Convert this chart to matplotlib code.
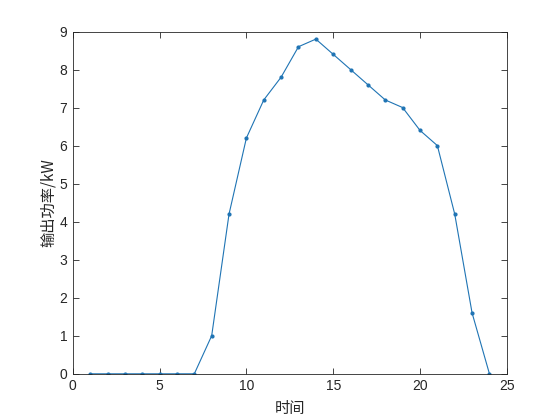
import matplotlib
matplotlib.use("Agg")
import matplotlib.pyplot as plt

plt.rcParams['font.family'] = ['Liberation Sans', 'Noto Sans CJK SC', 'DejaVu Sans']

hours = list(range(1, 25))
power = [0, 0, 0, 0, 0, 0, 0, 1.0, 4.2, 6.2, 7.2, 7.8, 8.6, 8.8, 8.4, 8.0,
         7.6, 7.2, 7.0, 6.4, 6.0, 4.2, 1.6, 0]
xticks = [0, 5, 10, 15, 20, 25]
yticks = list(range(0, 10))

axcol = '#262626'
fig = plt.figure(figsize=(5.6, 4.2), dpi=100)
ax = fig.add_axes([0.13, 0.11, 0.775, 0.815])
ax.plot(hours, power, color='#1f74b4', linewidth=0.8, marker='.', markersize=4)
ax.set_xlim(0, 25)
ax.set_ylim(0, 9)
ax.set_xticks(xticks)
ax.set_yticks(yticks)
ax.tick_params(direction='in', top=True, right=True, length=4, width=0.6,
               labelsize=10, colors=axcol, pad=4)
for s in ax.spines.values():
    s.set_linewidth(0.6)
    s.set_color(axcol)
ax.set_xlabel('时间', family=['Noto Sans CJK SC'], fontsize=11, color=axcol, labelpad=5)
ax.set_ylabel('输出功率/kW', family=['Noto Sans CJK SC', 'Liberation Sans'], fontsize=11,
              color=axcol, labelpad=2)
fig.savefig('out.png', dpi=100)
